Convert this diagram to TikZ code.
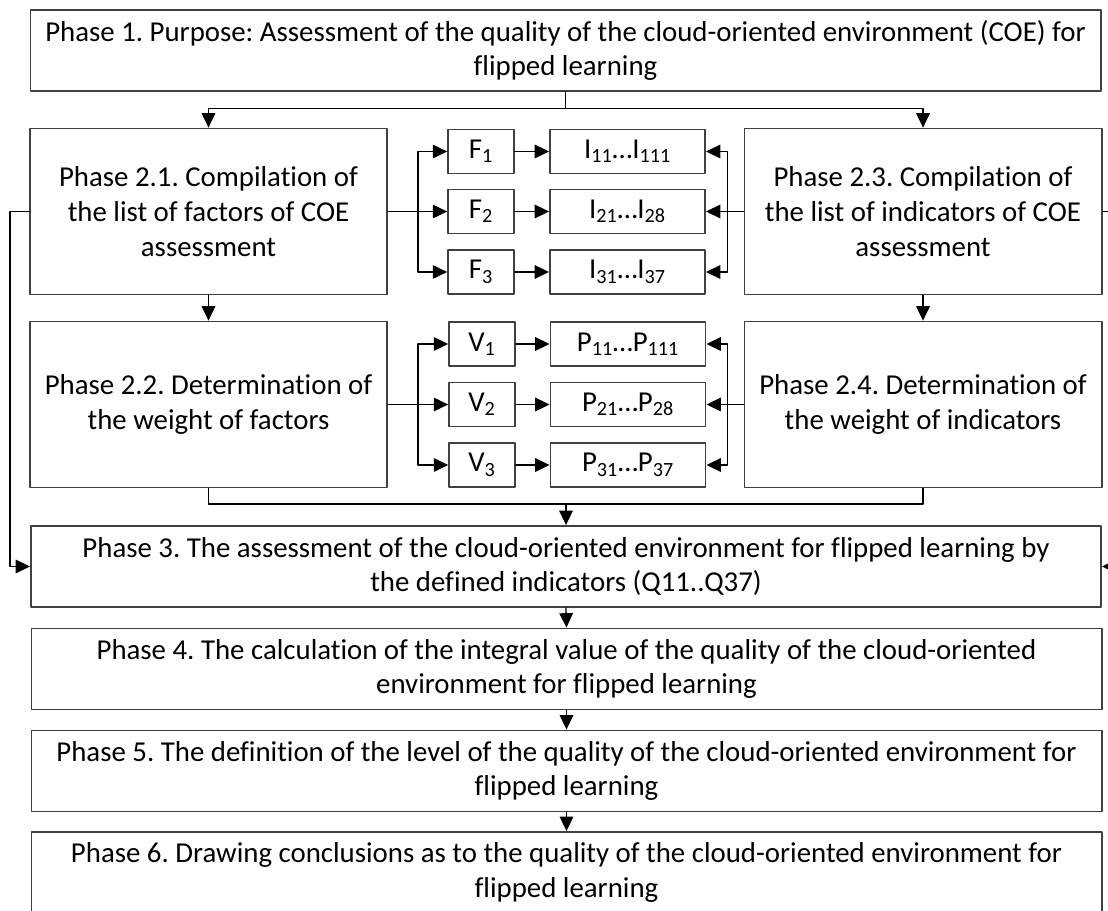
\documentclass[tikz,border=0pt]{standalone}
\usepackage{fontspec}
\setmainfont{Carlito}[Ligatures=NoCommon]
\frenchspacing
\usetikzlibrary{arrows.meta}
\begin{document}
\begin{tikzpicture}[x=0.025cm,y=-0.025cm,font=\fontsize{20.5}{24.8}\selectfont,line join=round,line cap=round,>={Triangle[length=3.6mm,width=3.4mm]},
		box/.style={draw=black!75,line width=1.2pt,align=center,inner sep=0pt},
		wide/.style={box,minimum width=26.75cm,minimum height=2.03cm},
		phase/.style={box,minimum width=8.93cm,minimum height=4.15cm},
		fbox/.style={box,minimum width=1.65cm,minimum height=1.1cm},
		ibox/.style={box,minimum width=3.88cm,minimum height=1.1cm},
		link/.style={line width=0.9pt}]
		\useasboundingbox (0,0) rectangle (1108,911);
		\node[wide] (p1) at (565.5,50.5) {Phase 1. Purpose: Assessment of the quality of the cloud-oriented environment (COE) for\\flipped learning};
		\node[phase] (p21) at (208.5,211.5) {Phase 2.1. Compilation of\\the list of factors of COE\\assessment};
		\node[phase] (p23) at (923,211.5) {Phase 2.3. Compilation of\\the list of indicators of COE\\assessment};
		\node[phase] (p22) at (208.5,404.5) {Phase 2.2. Determination of\\the weight of factors};
		\node[phase] (p24) at (923,404.5) {Phase 2.4. Determination of\\the weight of indicators};
		\node[fbox] (f1) at (481,151.5) {F\textsubscript{1}};
		\node[fbox] (f2) at (481,211.5) {F\textsubscript{2}};
		\node[fbox] (f3) at (481,272) {F\textsubscript{3}};
		\node[ibox] (i1) at (627.5,151.5) {I\textsubscript{11}…I\textsubscript{111}};
		\node[ibox] (i2) at (627.5,211.5) {I\textsubscript{21}…I\textsubscript{28}};
		\node[ibox] (i3) at (627.5,272) {I\textsubscript{31}…I\textsubscript{37}};
		\node[fbox] (v1) at (482,344) {V\textsubscript{1}};
		\node[fbox] (v2) at (482,404.5) {V\textsubscript{2}};
		\node[fbox] (v3) at (482,465) {V\textsubscript{3}};
		\node[ibox] (w1) at (628,344) {P\textsubscript{11}…P\textsubscript{111}};
		\node[ibox] (w2) at (628,404.5) {P\textsubscript{21}…P\textsubscript{28}};
		\node[ibox] (w3) at (628,465) {P\textsubscript{31}…P\textsubscript{37}};
		\node[wide] (p3) at (566,566.5) {Phase 3. The assessment of the cloud-oriented environment for flipped learning by\\the defined indicators (Q11..Q37)};
		\node[wide] (p4) at (566.5,669) {Phase 4. The calculation of the integral value of the quality of the cloud-oriented\\environment for flipped learning};
		\node[wide] (p5) at (566.5,771) {Phase 5. The definition of the level of the quality of the cloud-oriented environment for\\flipped learning};
		\node[wide] (p6) at (566.5,872.5) {Phase 6. Drawing conclusions as to the quality of the cloud-oriented environment for\\flipped learning};
		% phase 1 splits into the two lists
		\draw[link,->] (p1.south) -- ++(0,16.5) -| (p21.north);
		\draw[link,->] (p1.south) -- ++(0,16.5) -| (p23.north);
		\draw[link,->] (p21.south) -- (p22.north);
		\draw[link,->] (p23.south) -- (p24.north);
		% factors and indicators
		\draw[link] (p21.east) -- ++(30,0) coordinate (fb);
		\draw[link,->] (fb) |- (f1.west);
		\draw[link,->] (fb) -- (f2.west);
		\draw[link,->] (fb) |- (f3.west);
		\draw[link] (p23.west) -- ++(-16,0) coordinate (ib);
		\draw[link,->] (ib) |- (i1.east);
		\draw[link,->] (ib) -- (i2.east);
		\draw[link,->] (ib) |- (i3.east);
		\draw[link,->] (f1) -- (i1);
		\draw[link,->] (f2) -- (i2);
		\draw[link,->] (f3) -- (i3);
		% weights
		\draw[link] (p22.east) -- ++(30,0) coordinate (vb);
		\draw[link,->] (vb) |- (v1.west);
		\draw[link,->] (vb) -- (v2.west);
		\draw[link,->] (vb) |- (v3.west);
		\draw[link] (p24.west) -- ++(-16,0) coordinate (wb);
		\draw[link,->] (wb) |- (w1.east);
		\draw[link,->] (wb) -- (w2.east);
		\draw[link,->] (wb) |- (w3.east);
		\draw[link,->] (v1) -- (w1);
		\draw[link,->] (v2) -- (w2);
		\draw[link,->] (v3) -- (w3);
		% into phase 3
		\draw[link] (p22.south) -- ++(0,15.5) coordinate (mg) -| (p24.south);
		\draw[link,->] (mg -| p3.north) -- (p3.north);
		\draw[link,->] (p21.west) -- ++(-19,0) |- (p3.west);
		\draw[link,->] (p23.east) -- ++(22,0) |- (p3.east);
		\draw[link,->] (p3.south) -- (p4.north);
		\draw[link,->] (p4.south) -- (p5.north);
		\draw[link,->] (p5.south) -- (p6.north);
	\end{tikzpicture}
\end{document}
